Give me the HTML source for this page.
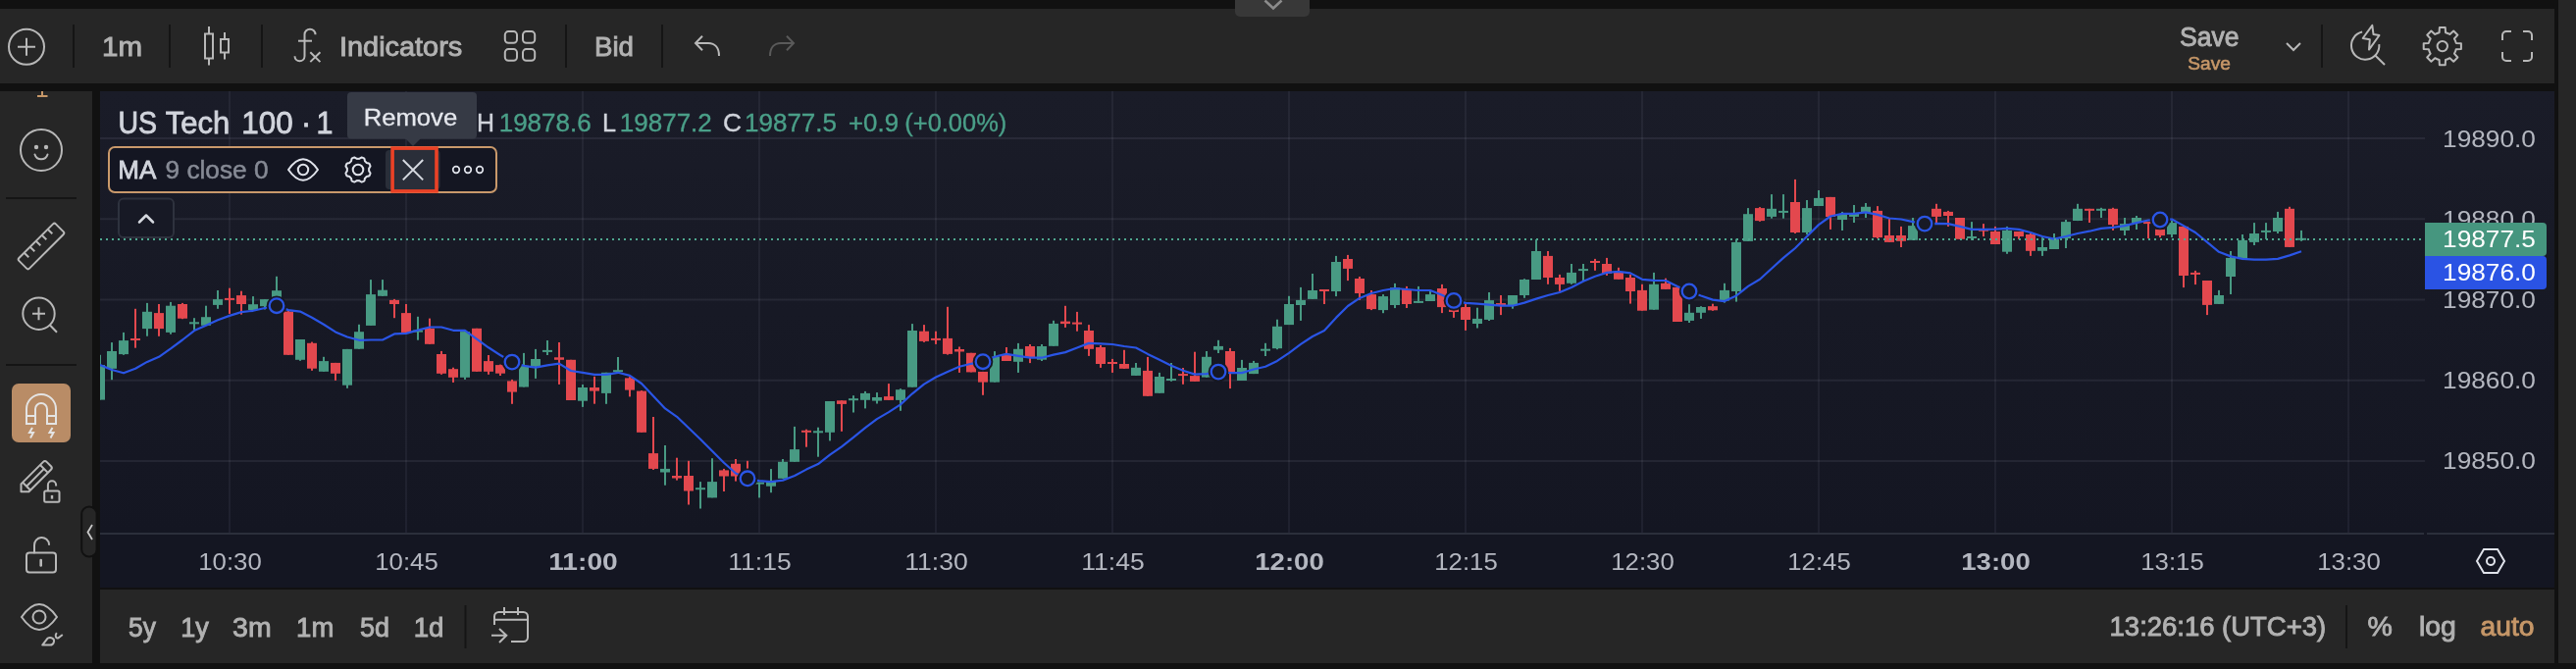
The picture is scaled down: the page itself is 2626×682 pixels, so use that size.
<!DOCTYPE html>
<html><head><meta charset="utf-8"><title>Chart</title>
<style>
html,body{margin:0;padding:0;}
body{width:2626px;height:682px;background:#111111;position:relative;overflow:hidden;font-family:"Liberation Sans",sans-serif;}
.p{position:absolute;}
#toolbar{left:0;top:9px;width:2604px;height:76px;background:#262626;}
#sidebar{left:0;top:93px;width:94px;height:583px;background:#262626;}
#plot{left:102px;top:93px;width:2502px;height:451px;background:linear-gradient(#1a1c28,#141622);}
#taxis{left:102px;top:544px;width:2502px;height:55px;background:#141622;}
#bottom{left:102px;top:601px;width:2502px;height:75px;background:#262626;}
#right{left:2608px;top:0;width:18px;height:676px;background:#262626;}
#tab{left:1259px;top:0;width:76px;height:17px;background:#383838;border-radius:0 0 5px 5px;}
svg{position:absolute;left:0;top:0;will-change:transform;}
svg text{font-family:"Liberation Sans",sans-serif;}
</style></head><body>
<div class="p" id="toolbar"></div>
<div class="p" id="sidebar"></div>
<div class="p" id="plot"></div>
<div class="p" id="taxis"></div>
<div class="p" id="bottom"></div>
<div class="p" id="right"></div>
<div class="p" id="tab"></div>
<svg width="2626" height="682" viewBox="0 0 2626 682">
<g id="chart">
<rect x="233" y="93" width="2" height="451" fill="#dfe4ff" fill-opacity="0.06"/>
<rect x="413" y="93" width="2" height="451" fill="#dfe4ff" fill-opacity="0.06"/>
<rect x="593" y="93" width="2" height="451" fill="#dfe4ff" fill-opacity="0.06"/>
<rect x="773" y="93" width="2" height="451" fill="#dfe4ff" fill-opacity="0.06"/>
<rect x="953" y="93" width="2" height="451" fill="#dfe4ff" fill-opacity="0.06"/>
<rect x="1133" y="93" width="2" height="451" fill="#dfe4ff" fill-opacity="0.06"/>
<rect x="1313" y="93" width="2" height="451" fill="#dfe4ff" fill-opacity="0.06"/>
<rect x="1493" y="93" width="2" height="451" fill="#dfe4ff" fill-opacity="0.06"/>
<rect x="1673" y="93" width="2" height="451" fill="#dfe4ff" fill-opacity="0.06"/>
<rect x="1853" y="93" width="2" height="451" fill="#dfe4ff" fill-opacity="0.06"/>
<rect x="2033" y="93" width="2" height="451" fill="#dfe4ff" fill-opacity="0.06"/>
<rect x="2213" y="93" width="2" height="451" fill="#dfe4ff" fill-opacity="0.06"/>
<rect x="2393" y="93" width="2" height="451" fill="#dfe4ff" fill-opacity="0.06"/>
<rect x="102" y="140.00" width="2370" height="2" fill="#dfe4ff" fill-opacity="0.075"/>
<rect x="102" y="222.25" width="2370" height="2" fill="#dfe4ff" fill-opacity="0.075"/>
<rect x="102" y="304.50" width="2370" height="2" fill="#dfe4ff" fill-opacity="0.075"/>
<rect x="102" y="386.75" width="2370" height="2" fill="#dfe4ff" fill-opacity="0.075"/>
<rect x="102" y="469.00" width="2370" height="2" fill="#dfe4ff" fill-opacity="0.075"/>
<rect x="102" y="543" width="2369" height="2" fill="#2b2f3b"/>
<rect x="2474" y="543" width="130" height="2" fill="#2b2f3b"/>
<clipPath id="cp"><rect x="102" y="93" width="2370" height="451"/></clipPath>
<g clip-path="url(#cp)">
<rect x="101" y="361.8" width="2" height="45.7" fill="#489a83"/>
<rect x="97" y="372.0" width="10" height="35.6" fill="#489a83"/>
<rect x="113" y="349.1" width="2" height="38.1" fill="#489a83"/>
<rect x="109" y="358.0" width="10" height="17.8" fill="#489a83"/>
<rect x="125" y="338.9" width="2" height="22.9" fill="#489a83"/>
<rect x="121" y="347.1" width="10" height="14.0" fill="#489a83"/>
<rect x="137" y="314.8" width="2" height="39.9" fill="#e3484e"/>
<rect x="133" y="345.0" width="10" height="2.0" fill="#e3484e"/>
<rect x="149" y="308.9" width="2" height="33.8" fill="#489a83"/>
<rect x="145" y="317.8" width="10" height="17.3" fill="#489a83"/>
<rect x="161" y="310.0" width="2" height="32.8" fill="#e3484e"/>
<rect x="157" y="319.1" width="10" height="16.0" fill="#e3484e"/>
<rect x="173" y="307.9" width="2" height="32.8" fill="#489a83"/>
<rect x="169" y="311.7" width="10" height="27.2" fill="#489a83"/>
<rect x="185" y="308.9" width="2" height="16.3" fill="#e3484e"/>
<rect x="181" y="310.0" width="10" height="14.7" fill="#e3484e"/>
<rect x="197" y="324.2" width="2" height="12.2" fill="#489a83"/>
<rect x="193" y="328.3" width="10" height="2.0" fill="#489a83"/>
<rect x="209" y="311.7" width="2" height="20.1" fill="#489a83"/>
<rect x="205" y="323.2" width="10" height="8.6" fill="#489a83"/>
<rect x="221" y="296.0" width="2" height="18.8" fill="#489a83"/>
<rect x="217" y="305.1" width="10" height="5.8" fill="#489a83"/>
<rect x="233" y="293.7" width="2" height="26.2" fill="#e3484e"/>
<rect x="229" y="303.9" width="10" height="2.0" fill="#e3484e"/>
<rect x="245" y="296.7" width="2" height="23.9" fill="#e3484e"/>
<rect x="241" y="301.1" width="10" height="8.9" fill="#e3484e"/>
<rect x="257" y="302.1" width="2" height="14.0" fill="#489a83"/>
<rect x="253" y="310.2" width="10" height="5.8" fill="#489a83"/>
<rect x="269" y="305.1" width="2" height="10.4" fill="#489a83"/>
<rect x="265" y="305.1" width="10" height="7.1" fill="#489a83"/>
<rect x="281" y="281.8" width="2" height="22.9" fill="#489a83"/>
<rect x="277" y="296.2" width="10" height="7.1" fill="#489a83"/>
<rect x="293" y="316.6" width="2" height="45.2" fill="#e3484e"/>
<rect x="289" y="317.6" width="10" height="44.2" fill="#e3484e"/>
<rect x="305" y="346.0" width="2" height="21.8" fill="#489a83"/>
<rect x="301" y="346.0" width="10" height="20.8" fill="#489a83"/>
<rect x="317" y="348.6" width="2" height="29.2" fill="#e3484e"/>
<rect x="313" y="349.8" width="10" height="25.9" fill="#e3484e"/>
<rect x="329" y="363.8" width="2" height="15.0" fill="#489a83"/>
<rect x="325" y="368.1" width="10" height="10.7" fill="#489a83"/>
<rect x="341" y="369.9" width="2" height="18.0" fill="#e3484e"/>
<rect x="337" y="369.9" width="10" height="10.9" fill="#e3484e"/>
<rect x="353" y="355.9" width="2" height="39.9" fill="#489a83"/>
<rect x="349" y="355.9" width="10" height="36.8" fill="#489a83"/>
<rect x="365" y="330.8" width="2" height="24.9" fill="#489a83"/>
<rect x="361" y="338.2" width="10" height="17.5" fill="#489a83"/>
<rect x="377" y="285.1" width="2" height="46.7" fill="#489a83"/>
<rect x="373" y="300.1" width="10" height="31.8" fill="#489a83"/>
<rect x="389" y="285.1" width="2" height="16.8" fill="#489a83"/>
<rect x="385" y="295.7" width="10" height="6.1" fill="#489a83"/>
<rect x="401" y="304.9" width="2" height="19.3" fill="#e3484e"/>
<rect x="397" y="305.9" width="10" height="4.1" fill="#e3484e"/>
<rect x="413" y="310.0" width="2" height="29.0" fill="#e3484e"/>
<rect x="409" y="319.1" width="10" height="19.8" fill="#e3484e"/>
<rect x="425" y="322.8" width="2" height="23.9" fill="#489a83"/>
<rect x="421" y="336.6" width="10" height="2.0" fill="#489a83"/>
<rect x="437" y="324.6" width="2" height="26.2" fill="#e3484e"/>
<rect x="433" y="334.8" width="10" height="16.0" fill="#e3484e"/>
<rect x="449" y="357.9" width="2" height="23.9" fill="#e3484e"/>
<rect x="445" y="361.0" width="10" height="19.8" fill="#e3484e"/>
<rect x="461" y="374.7" width="2" height="15.2" fill="#e3484e"/>
<rect x="457" y="376.2" width="10" height="8.6" fill="#e3484e"/>
<rect x="473" y="338.1" width="2" height="48.8" fill="#489a83"/>
<rect x="469" y="338.1" width="10" height="46.7" fill="#489a83"/>
<rect x="485" y="334.8" width="2" height="44.0" fill="#e3484e"/>
<rect x="481" y="334.8" width="10" height="44.0" fill="#e3484e"/>
<rect x="497" y="362.0" width="2" height="19.8" fill="#e3484e"/>
<rect x="493" y="368.1" width="10" height="10.7" fill="#e3484e"/>
<rect x="509" y="371.6" width="2" height="11.4" fill="#e3484e"/>
<rect x="505" y="372.1" width="10" height="8.6" fill="#e3484e"/>
<rect x="521" y="386.9" width="2" height="24.9" fill="#e3484e"/>
<rect x="517" y="388.4" width="10" height="11.2" fill="#e3484e"/>
<rect x="533" y="359.9" width="2" height="34.6" fill="#489a83"/>
<rect x="529" y="372.9" width="10" height="21.6" fill="#489a83"/>
<rect x="545" y="355.9" width="2" height="30.0" fill="#489a83"/>
<rect x="541" y="366.0" width="10" height="7.6" fill="#489a83"/>
<rect x="557" y="347.0" width="2" height="15.0" fill="#489a83"/>
<rect x="553" y="356.9" width="10" height="2.0" fill="#489a83"/>
<rect x="569" y="349.0" width="2" height="42.9" fill="#e3484e"/>
<rect x="565" y="364.3" width="10" height="2.5" fill="#e3484e"/>
<rect x="581" y="366.8" width="2" height="41.2" fill="#e3484e"/>
<rect x="577" y="366.8" width="10" height="41.2" fill="#e3484e"/>
<rect x="593" y="392.0" width="2" height="22.9" fill="#489a83"/>
<rect x="589" y="395.0" width="10" height="13.7" fill="#489a83"/>
<rect x="605" y="383.8" width="2" height="27.9" fill="#e3484e"/>
<rect x="601" y="395.0" width="10" height="3.6" fill="#e3484e"/>
<rect x="617" y="379.8" width="2" height="32.0" fill="#489a83"/>
<rect x="613" y="379.8" width="10" height="21.1" fill="#489a83"/>
<rect x="629" y="364.0" width="2" height="15.8" fill="#489a83"/>
<rect x="625" y="377.2" width="10" height="2.0" fill="#489a83"/>
<rect x="641" y="384.1" width="2" height="20.3" fill="#e3484e"/>
<rect x="637" y="385.4" width="10" height="12.2" fill="#e3484e"/>
<rect x="653" y="398.1" width="2" height="42.7" fill="#e3484e"/>
<rect x="649" y="398.6" width="10" height="42.2" fill="#e3484e"/>
<rect x="665" y="425.0" width="2" height="53.9" fill="#e3484e"/>
<rect x="661" y="462.1" width="10" height="15.8" fill="#e3484e"/>
<rect x="677" y="454.0" width="2" height="40.7" fill="#489a83"/>
<rect x="673" y="477.9" width="10" height="3.6" fill="#489a83"/>
<rect x="689" y="466.7" width="2" height="22.9" fill="#e3484e"/>
<rect x="685" y="485.0" width="10" height="2.5" fill="#e3484e"/>
<rect x="701" y="469.8" width="2" height="44.7" fill="#e3484e"/>
<rect x="697" y="485.0" width="10" height="15.5" fill="#e3484e"/>
<rect x="713" y="491.1" width="2" height="27.4" fill="#489a83"/>
<rect x="709" y="497.2" width="10" height="2.0" fill="#489a83"/>
<rect x="725" y="467.2" width="2" height="40.1" fill="#489a83"/>
<rect x="721" y="491.1" width="10" height="16.3" fill="#489a83"/>
<rect x="737" y="477.9" width="2" height="23.1" fill="#e3484e"/>
<rect x="733" y="479.4" width="10" height="6.1" fill="#e3484e"/>
<rect x="749" y="468.0" width="2" height="22.6" fill="#e3484e"/>
<rect x="745" y="472.8" width="10" height="12.7" fill="#e3484e"/>
<rect x="761" y="469.8" width="2" height="17.3" fill="#e3484e"/>
<rect x="757" y="481.4" width="10" height="2.0" fill="#e3484e"/>
<rect x="773" y="491.6" width="2" height="15.8" fill="#489a83"/>
<rect x="769" y="491.6" width="10" height="2.0" fill="#489a83"/>
<rect x="785" y="478.1" width="2" height="24.1" fill="#489a83"/>
<rect x="781" y="490.1" width="10" height="5.6" fill="#489a83"/>
<rect x="797" y="468.0" width="2" height="19.8" fill="#489a83"/>
<rect x="793" y="470.8" width="10" height="17.0" fill="#489a83"/>
<rect x="809" y="434.9" width="2" height="35.8" fill="#489a83"/>
<rect x="805" y="458.1" width="10" height="12.7" fill="#489a83"/>
<rect x="821" y="437.7" width="2" height="18.0" fill="#e3484e"/>
<rect x="817" y="438.8" width="10" height="2.0" fill="#e3484e"/>
<rect x="833" y="435.7" width="2" height="30.0" fill="#489a83"/>
<rect x="829" y="439.3" width="10" height="2.0" fill="#489a83"/>
<rect x="845" y="409.0" width="2" height="40.4" fill="#489a83"/>
<rect x="841" y="409.0" width="10" height="31.8" fill="#489a83"/>
<rect x="857" y="408.3" width="2" height="31.5" fill="#e3484e"/>
<rect x="853" y="408.3" width="10" height="3.6" fill="#e3484e"/>
<rect x="869" y="403.2" width="2" height="17.3" fill="#489a83"/>
<rect x="865" y="406.2" width="10" height="2.0" fill="#489a83"/>
<rect x="881" y="398.9" width="2" height="17.5" fill="#489a83"/>
<rect x="877" y="400.9" width="10" height="6.9" fill="#489a83"/>
<rect x="893" y="400.1" width="2" height="11.4" fill="#489a83"/>
<rect x="889" y="405.0" width="10" height="3.6" fill="#489a83"/>
<rect x="905" y="391.1" width="2" height="16.8" fill="#e3484e"/>
<rect x="901" y="404.1" width="10" height="3.8" fill="#e3484e"/>
<rect x="917" y="396.2" width="2" height="22.6" fill="#489a83"/>
<rect x="913" y="397.2" width="10" height="10.7" fill="#489a83"/>
<rect x="929" y="330.1" width="2" height="64.5" fill="#489a83"/>
<rect x="925" y="337.0" width="10" height="57.7" fill="#489a83"/>
<rect x="941" y="331.1" width="2" height="17.8" fill="#e3484e"/>
<rect x="937" y="337.7" width="10" height="10.2" fill="#e3484e"/>
<rect x="953" y="337.7" width="2" height="13.2" fill="#e3484e"/>
<rect x="949" y="344.9" width="10" height="2.0" fill="#e3484e"/>
<rect x="965" y="312.8" width="2" height="48.8" fill="#e3484e"/>
<rect x="961" y="344.9" width="10" height="16.0" fill="#e3484e"/>
<rect x="977" y="353.5" width="2" height="26.4" fill="#e3484e"/>
<rect x="973" y="356.0" width="10" height="2.5" fill="#e3484e"/>
<rect x="989" y="359.8" width="2" height="19.6" fill="#e3484e"/>
<rect x="985" y="359.8" width="10" height="19.6" fill="#e3484e"/>
<rect x="1001" y="376.9" width="2" height="25.9" fill="#e3484e"/>
<rect x="997" y="378.9" width="10" height="10.7" fill="#e3484e"/>
<rect x="1013" y="358.1" width="2" height="31.5" fill="#489a83"/>
<rect x="1009" y="363.7" width="10" height="25.9" fill="#489a83"/>
<rect x="1025" y="354.0" width="2" height="14.0" fill="#e3484e"/>
<rect x="1021" y="361.1" width="10" height="6.9" fill="#e3484e"/>
<rect x="1037" y="349.9" width="2" height="30.0" fill="#489a83"/>
<rect x="1033" y="355.8" width="10" height="13.0" fill="#489a83"/>
<rect x="1049" y="351.0" width="2" height="19.1" fill="#e3484e"/>
<rect x="1045" y="353.0" width="10" height="11.2" fill="#e3484e"/>
<rect x="1061" y="351.0" width="2" height="17.0" fill="#489a83"/>
<rect x="1057" y="353.0" width="10" height="13.7" fill="#489a83"/>
<rect x="1073" y="326.8" width="2" height="25.9" fill="#489a83"/>
<rect x="1069" y="329.9" width="10" height="22.9" fill="#489a83"/>
<rect x="1085" y="311.8" width="2" height="22.1" fill="#e3484e"/>
<rect x="1081" y="327.6" width="10" height="2.5" fill="#e3484e"/>
<rect x="1097" y="317.9" width="2" height="19.8" fill="#e3484e"/>
<rect x="1093" y="328.6" width="10" height="2.0" fill="#e3484e"/>
<rect x="1109" y="331.1" width="2" height="31.8" fill="#e3484e"/>
<rect x="1105" y="337.0" width="10" height="18.8" fill="#e3484e"/>
<rect x="1121" y="352.0" width="2" height="22.9" fill="#e3484e"/>
<rect x="1117" y="354.0" width="10" height="17.0" fill="#e3484e"/>
<rect x="1133" y="365.9" width="2" height="14.0" fill="#e3484e"/>
<rect x="1129" y="369.0" width="10" height="2.0" fill="#e3484e"/>
<rect x="1145" y="356.8" width="2" height="19.1" fill="#e3484e"/>
<rect x="1141" y="371.0" width="10" height="4.8" fill="#e3484e"/>
<rect x="1157" y="370.0" width="2" height="13.0" fill="#489a83"/>
<rect x="1153" y="374.8" width="10" height="8.1" fill="#489a83"/>
<rect x="1169" y="363.9" width="2" height="39.9" fill="#e3484e"/>
<rect x="1165" y="377.9" width="10" height="25.9" fill="#e3484e"/>
<rect x="1181" y="379.9" width="2" height="20.8" fill="#489a83"/>
<rect x="1177" y="384.0" width="10" height="16.8" fill="#489a83"/>
<rect x="1193" y="370.0" width="2" height="18.8" fill="#489a83"/>
<rect x="1189" y="386.0" width="10" height="2.0" fill="#489a83"/>
<rect x="1205" y="375.0" width="2" height="16.8" fill="#e3484e"/>
<rect x="1201" y="381.1" width="10" height="2.0" fill="#e3484e"/>
<rect x="1217" y="358.7" width="2" height="30.2" fill="#e3484e"/>
<rect x="1213" y="383.1" width="10" height="5.8" fill="#e3484e"/>
<rect x="1229" y="358.0" width="2" height="26.7" fill="#489a83"/>
<rect x="1225" y="363.8" width="10" height="20.8" fill="#489a83"/>
<rect x="1241" y="346.8" width="2" height="13.2" fill="#489a83"/>
<rect x="1237" y="352.9" width="10" height="3.8" fill="#489a83"/>
<rect x="1253" y="354.9" width="2" height="41.2" fill="#e3484e"/>
<rect x="1249" y="358.0" width="10" height="21.1" fill="#e3484e"/>
<rect x="1265" y="366.9" width="2" height="21.1" fill="#489a83"/>
<rect x="1261" y="375.0" width="10" height="13.0" fill="#489a83"/>
<rect x="1277" y="367.9" width="2" height="13.2" fill="#489a83"/>
<rect x="1273" y="369.9" width="10" height="11.2" fill="#489a83"/>
<rect x="1289" y="349.8" width="2" height="13.2" fill="#489a83"/>
<rect x="1285" y="355.7" width="10" height="2.0" fill="#489a83"/>
<rect x="1301" y="325.7" width="2" height="30.5" fill="#489a83"/>
<rect x="1297" y="332.8" width="10" height="22.4" fill="#489a83"/>
<rect x="1313" y="301.8" width="2" height="29.2" fill="#489a83"/>
<rect x="1309" y="310.0" width="10" height="21.1" fill="#489a83"/>
<rect x="1325" y="292.9" width="2" height="34.0" fill="#489a83"/>
<rect x="1321" y="305.9" width="10" height="5.1" fill="#489a83"/>
<rect x="1337" y="279.0" width="2" height="25.9" fill="#489a83"/>
<rect x="1333" y="296.0" width="10" height="8.9" fill="#489a83"/>
<rect x="1349" y="295.0" width="2" height="15.0" fill="#e3484e"/>
<rect x="1345" y="295.0" width="10" height="2.0" fill="#e3484e"/>
<rect x="1361" y="260.9" width="2" height="41.2" fill="#489a83"/>
<rect x="1357" y="267.0" width="10" height="30.0" fill="#489a83"/>
<rect x="1373" y="259.9" width="2" height="26.2" fill="#e3484e"/>
<rect x="1369" y="264.0" width="10" height="9.9" fill="#e3484e"/>
<rect x="1385" y="282.0" width="2" height="23.9" fill="#e3484e"/>
<rect x="1381" y="284.0" width="10" height="15.0" fill="#e3484e"/>
<rect x="1397" y="296.0" width="2" height="20.1" fill="#e3484e"/>
<rect x="1393" y="300.1" width="10" height="15.0" fill="#e3484e"/>
<rect x="1409" y="300.1" width="2" height="19.1" fill="#489a83"/>
<rect x="1405" y="302.1" width="10" height="14.0" fill="#489a83"/>
<rect x="1421" y="288.9" width="2" height="25.2" fill="#489a83"/>
<rect x="1417" y="293.2" width="10" height="17.8" fill="#489a83"/>
<rect x="1433" y="291.9" width="2" height="22.1" fill="#e3484e"/>
<rect x="1429" y="295.0" width="10" height="15.0" fill="#e3484e"/>
<rect x="1445" y="291.9" width="2" height="17.0" fill="#489a83"/>
<rect x="1441" y="306.9" width="10" height="2.0" fill="#489a83"/>
<rect x="1457" y="297.0" width="2" height="9.9" fill="#489a83"/>
<rect x="1453" y="300.1" width="10" height="6.9" fill="#489a83"/>
<rect x="1469" y="289.9" width="2" height="29.2" fill="#e3484e"/>
<rect x="1465" y="294.0" width="10" height="19.1" fill="#e3484e"/>
<rect x="1481" y="313.5" width="2" height="10.4" fill="#e3484e"/>
<rect x="1477" y="315.0" width="10" height="3.0" fill="#e3484e"/>
<rect x="1493" y="310.0" width="2" height="26.9" fill="#e3484e"/>
<rect x="1489" y="313.0" width="10" height="13.0" fill="#e3484e"/>
<rect x="1505" y="313.7" width="2" height="20.8" fill="#489a83"/>
<rect x="1501" y="324.9" width="10" height="5.1" fill="#489a83"/>
<rect x="1517" y="298.0" width="2" height="29.0" fill="#489a83"/>
<rect x="1513" y="306.1" width="10" height="19.8" fill="#489a83"/>
<rect x="1529" y="301.0" width="2" height="20.1" fill="#e3484e"/>
<rect x="1525" y="309.1" width="10" height="2.0" fill="#e3484e"/>
<rect x="1541" y="301.0" width="2" height="13.7" fill="#489a83"/>
<rect x="1537" y="301.0" width="10" height="10.2" fill="#489a83"/>
<rect x="1553" y="284.2" width="2" height="19.6" fill="#489a83"/>
<rect x="1549" y="285.0" width="10" height="16.0" fill="#489a83"/>
<rect x="1565" y="244.1" width="2" height="40.9" fill="#489a83"/>
<rect x="1561" y="256.0" width="10" height="29.0" fill="#489a83"/>
<rect x="1577" y="256.0" width="2" height="33.8" fill="#e3484e"/>
<rect x="1573" y="260.9" width="10" height="22.1" fill="#e3484e"/>
<rect x="1589" y="279.9" width="2" height="17.0" fill="#e3484e"/>
<rect x="1585" y="283.0" width="10" height="6.9" fill="#e3484e"/>
<rect x="1601" y="269.0" width="2" height="20.8" fill="#489a83"/>
<rect x="1597" y="277.9" width="10" height="10.9" fill="#489a83"/>
<rect x="1613" y="269.0" width="2" height="17.0" fill="#489a83"/>
<rect x="1609" y="274.1" width="10" height="2.0" fill="#489a83"/>
<rect x="1625" y="263.9" width="2" height="11.9" fill="#e3484e"/>
<rect x="1621" y="266.0" width="10" height="2.0" fill="#e3484e"/>
<rect x="1637" y="262.9" width="2" height="18.0" fill="#e3484e"/>
<rect x="1633" y="269.0" width="10" height="9.9" fill="#e3484e"/>
<rect x="1649" y="272.8" width="2" height="11.9" fill="#e3484e"/>
<rect x="1645" y="276.9" width="10" height="7.9" fill="#e3484e"/>
<rect x="1661" y="279.9" width="2" height="29.7" fill="#e3484e"/>
<rect x="1657" y="283.0" width="10" height="14.0" fill="#e3484e"/>
<rect x="1673" y="289.8" width="2" height="26.9" fill="#e3484e"/>
<rect x="1669" y="295.9" width="10" height="20.8" fill="#e3484e"/>
<rect x="1685" y="277.9" width="2" height="37.9" fill="#489a83"/>
<rect x="1681" y="289.8" width="10" height="25.9" fill="#489a83"/>
<rect x="1697" y="283.7" width="2" height="11.2" fill="#e3484e"/>
<rect x="1693" y="288.8" width="10" height="6.1" fill="#e3484e"/>
<rect x="1709" y="292.9" width="2" height="35.1" fill="#e3484e"/>
<rect x="1705" y="292.9" width="10" height="35.1" fill="#e3484e"/>
<rect x="1721" y="310.2" width="2" height="18.8" fill="#489a83"/>
<rect x="1717" y="318.8" width="10" height="8.1" fill="#489a83"/>
<rect x="1733" y="312.2" width="2" height="12.7" fill="#489a83"/>
<rect x="1729" y="313.0" width="10" height="5.8" fill="#489a83"/>
<rect x="1745" y="309.7" width="2" height="7.1" fill="#e3484e"/>
<rect x="1741" y="312.2" width="10" height="4.1" fill="#e3484e"/>
<rect x="1757" y="288.8" width="2" height="19.8" fill="#489a83"/>
<rect x="1753" y="295.9" width="10" height="10.7" fill="#489a83"/>
<rect x="1769" y="243.6" width="2" height="64.0" fill="#489a83"/>
<rect x="1765" y="246.9" width="10" height="50.1" fill="#489a83"/>
<rect x="1781" y="212.1" width="2" height="33.8" fill="#489a83"/>
<rect x="1777" y="218.2" width="10" height="27.7" fill="#489a83"/>
<rect x="1793" y="211.1" width="2" height="14.7" fill="#e3484e"/>
<rect x="1789" y="212.1" width="10" height="13.0" fill="#e3484e"/>
<rect x="1805" y="198.1" width="2" height="24.6" fill="#489a83"/>
<rect x="1801" y="212.8" width="10" height="8.1" fill="#489a83"/>
<rect x="1817" y="198.1" width="2" height="24.6" fill="#489a83"/>
<rect x="1813" y="214.9" width="10" height="2.0" fill="#489a83"/>
<rect x="1829" y="182.9" width="2" height="55.1" fill="#e3484e"/>
<rect x="1825" y="206.0" width="10" height="31.0" fill="#e3484e"/>
<rect x="1841" y="204.0" width="2" height="35.1" fill="#489a83"/>
<rect x="1837" y="212.1" width="10" height="24.9" fill="#489a83"/>
<rect x="1853" y="194.0" width="2" height="16.0" fill="#489a83"/>
<rect x="1849" y="201.9" width="10" height="8.1" fill="#489a83"/>
<rect x="1865" y="200.9" width="2" height="33.0" fill="#e3484e"/>
<rect x="1861" y="200.9" width="10" height="20.1" fill="#e3484e"/>
<rect x="1877" y="215.9" width="2" height="19.1" fill="#489a83"/>
<rect x="1873" y="218.9" width="10" height="5.1" fill="#489a83"/>
<rect x="1889" y="209.0" width="2" height="18.0" fill="#489a83"/>
<rect x="1885" y="217.9" width="10" height="3.0" fill="#489a83"/>
<rect x="1901" y="207.0" width="2" height="15.0" fill="#489a83"/>
<rect x="1897" y="210.8" width="10" height="6.1" fill="#489a83"/>
<rect x="1913" y="210.1" width="2" height="33.0" fill="#e3484e"/>
<rect x="1909" y="214.9" width="10" height="27.2" fill="#e3484e"/>
<rect x="1925" y="223.0" width="2" height="23.9" fill="#e3484e"/>
<rect x="1921" y="240.0" width="10" height="6.9" fill="#e3484e"/>
<rect x="1937" y="230.9" width="2" height="21.1" fill="#e3484e"/>
<rect x="1933" y="240.0" width="10" height="5.8" fill="#e3484e"/>
<rect x="1949" y="222.0" width="2" height="22.9" fill="#489a83"/>
<rect x="1945" y="230.1" width="10" height="14.7" fill="#489a83"/>
<rect x="1973" y="207.8" width="2" height="19.3" fill="#e3484e"/>
<rect x="1969" y="212.8" width="10" height="8.1" fill="#e3484e"/>
<rect x="1985" y="214.9" width="2" height="16.0" fill="#e3484e"/>
<rect x="1981" y="215.9" width="10" height="4.1" fill="#e3484e"/>
<rect x="1997" y="222.0" width="2" height="21.8" fill="#e3484e"/>
<rect x="1993" y="222.0" width="10" height="21.8" fill="#e3484e"/>
<rect x="2009" y="226.1" width="2" height="18.8" fill="#489a83"/>
<rect x="2005" y="241.0" width="10" height="2.0" fill="#489a83"/>
<rect x="2021" y="228.1" width="2" height="13.0" fill="#e3484e"/>
<rect x="2017" y="233.7" width="10" height="2.0" fill="#e3484e"/>
<rect x="2033" y="230.9" width="2" height="18.0" fill="#e3484e"/>
<rect x="2029" y="236.0" width="10" height="13.0" fill="#e3484e"/>
<rect x="2045" y="230.9" width="2" height="27.9" fill="#489a83"/>
<rect x="2041" y="234.9" width="10" height="21.8" fill="#489a83"/>
<rect x="2057" y="236.0" width="2" height="7.9" fill="#e3484e"/>
<rect x="2053" y="236.0" width="10" height="5.1" fill="#e3484e"/>
<rect x="2069" y="238.0" width="2" height="22.9" fill="#e3484e"/>
<rect x="2065" y="239.0" width="10" height="16.8" fill="#e3484e"/>
<rect x="2081" y="242.1" width="2" height="18.8" fill="#489a83"/>
<rect x="2077" y="252.0" width="10" height="3.8" fill="#489a83"/>
<rect x="2093" y="238.0" width="2" height="16.0" fill="#489a83"/>
<rect x="2089" y="243.8" width="10" height="10.2" fill="#489a83"/>
<rect x="2105" y="224.0" width="2" height="29.0" fill="#489a83"/>
<rect x="2101" y="226.1" width="10" height="17.0" fill="#489a83"/>
<rect x="2117" y="207.8" width="2" height="17.3" fill="#489a83"/>
<rect x="2113" y="212.8" width="10" height="12.2" fill="#489a83"/>
<rect x="2129" y="212.8" width="2" height="14.2" fill="#e3484e"/>
<rect x="2125" y="212.8" width="10" height="2.0" fill="#e3484e"/>
<rect x="2141" y="211.8" width="2" height="10.2" fill="#489a83"/>
<rect x="2137" y="212.8" width="10" height="2.0" fill="#489a83"/>
<rect x="2153" y="211.8" width="2" height="23.1" fill="#e3484e"/>
<rect x="2149" y="212.8" width="10" height="16.3" fill="#e3484e"/>
<rect x="2165" y="222.0" width="2" height="18.0" fill="#489a83"/>
<rect x="2161" y="228.1" width="10" height="6.9" fill="#489a83"/>
<rect x="2177" y="220.0" width="2" height="14.0" fill="#489a83"/>
<rect x="2173" y="222.0" width="10" height="5.1" fill="#489a83"/>
<rect x="2189" y="226.1" width="2" height="17.0" fill="#e3484e"/>
<rect x="2185" y="226.1" width="10" height="2.0" fill="#e3484e"/>
<rect x="2201" y="232.4" width="2" height="9.7" fill="#e3484e"/>
<rect x="2197" y="233.7" width="10" height="6.4" fill="#e3484e"/>
<rect x="2213" y="225.0" width="2" height="17.0" fill="#489a83"/>
<rect x="2209" y="227.1" width="10" height="11.9" fill="#489a83"/>
<rect x="2225" y="230.9" width="2" height="62.2" fill="#e3484e"/>
<rect x="2221" y="230.9" width="10" height="50.1" fill="#e3484e"/>
<rect x="2237" y="275.9" width="2" height="14.2" fill="#e3484e"/>
<rect x="2233" y="277.9" width="10" height="2.0" fill="#e3484e"/>
<rect x="2249" y="286.0" width="2" height="35.1" fill="#e3484e"/>
<rect x="2245" y="286.0" width="10" height="24.9" fill="#e3484e"/>
<rect x="2261" y="295.9" width="2" height="14.0" fill="#489a83"/>
<rect x="2257" y="301.0" width="10" height="8.9" fill="#489a83"/>
<rect x="2273" y="256.0" width="2" height="44.0" fill="#489a83"/>
<rect x="2269" y="262.9" width="10" height="19.1" fill="#489a83"/>
<rect x="2285" y="239.0" width="2" height="24.9" fill="#489a83"/>
<rect x="2281" y="244.9" width="10" height="19.1" fill="#489a83"/>
<rect x="2297" y="227.1" width="2" height="22.9" fill="#489a83"/>
<rect x="2293" y="238.0" width="10" height="8.9" fill="#489a83"/>
<rect x="2309" y="227.1" width="2" height="16.8" fill="#489a83"/>
<rect x="2305" y="234.9" width="10" height="2.0" fill="#489a83"/>
<rect x="2321" y="215.9" width="2" height="22.1" fill="#489a83"/>
<rect x="2317" y="222.0" width="10" height="14.0" fill="#489a83"/>
<rect x="2333" y="210.8" width="2" height="41.2" fill="#e3484e"/>
<rect x="2329" y="212.8" width="10" height="39.1" fill="#e3484e"/>
<rect x="2345" y="234.9" width="2" height="10.9" fill="#489a83"/>
<rect x="2341" y="242.8" width="10" height="2.0" fill="#489a83"/>
<path d="M102,372.0 L114,377.0 L126,380.3 L138,375.8 L150,368.9 L162,363.8 L174,355.4 L186,346.5 L198,337.1 L210,331.8 L222,326.2 L234,321.9 L246,318.1 L258,316.8 L270,314.0 L282,311.7 L294,316.1 L306,317.6 L318,323.7 L330,330.8 L342,338.4 L354,343.5 L366,346.8 L378,346.5 L390,346.5 L402,340.4 L414,339.9 L426,336.6 L438,333.5 L450,333.5 L462,336.8 L474,336.8 L486,345.7 L498,354.3 L510,362.0 L522,369.1 L534,372.9 L546,374.7 L558,372.4 L570,370.6 L582,378.0 L594,379.8 L606,381.8 L618,381.8 L630,379.8 L642,382.9 L654,391.0 L666,403.7 L678,416.4 L690,424.8 L702,436.2 L714,447.7 L726,459.8 L738,471.8 L750,482.5 L762,487.8 L774,490.1 L786,491.1 L798,489.6 L810,485.0 L822,478.6 L834,473.1 L846,463.7 L858,455.3 L870,445.9 L882,436.2 L894,427.1 L906,420.1 L918,412.4 L930,401.3 L942,391.6 L954,384.5 L966,378.9 L978,373.8 L990,370.8 L1002,368.7 L1014,363.7 L1026,360.9 L1038,362.9 L1050,364.7 L1062,364.7 L1074,361.6 L1086,359.1 L1098,354.5 L1110,349.9 L1122,350.4 L1134,351.0 L1146,353.0 L1158,354.5 L1170,360.9 L1182,366.7 L1194,372.8 L1206,377.8 L1218,381.6 L1230,381.1 L1242,379.1 L1254,380.1 L1266,380.1 L1278,376.5 L1290,373.7 L1302,367.9 L1314,359.8 L1326,350.9 L1338,343.0 L1350,336.9 L1362,323.9 L1374,312.0 L1386,303.9 L1398,299.0 L1410,296.0 L1422,294.0 L1434,295.0 L1446,296.0 L1458,296.0 L1470,300.8 L1482,306.4 L1494,308.9 L1506,309.7 L1518,310.7 L1530,311.7 L1542,311.7 L1554,308.6 L1566,304.6 L1578,301.0 L1590,298.0 L1602,292.9 L1614,286.8 L1626,281.7 L1638,277.9 L1650,276.9 L1662,278.4 L1674,284.8 L1686,285.8 L1698,286.0 L1710,291.9 L1722,297.0 L1734,301.5 L1746,305.6 L1758,307.1 L1770,301.5 L1782,291.9 L1794,284.8 L1806,273.8 L1818,262.9 L1830,253.0 L1842,241.0 L1854,229.1 L1866,220.5 L1878,217.9 L1890,217.9 L1902,216.4 L1914,218.9 L1926,222.5 L1938,223.5 L1950,226.1 L1962,228.1 L1974,227.8 L1986,228.1 L1998,230.9 L2010,233.9 L2022,233.9 L2034,233.7 L2046,232.9 L2058,233.9 L2070,237.0 L2082,241.0 L2094,243.6 L2106,241.0 L2118,238.0 L2130,235.7 L2142,232.9 L2154,231.9 L2166,230.1 L2178,227.1 L2190,224.5 L2202,224.0 L2214,223.5 L2226,230.1 L2238,237.0 L2250,246.9 L2262,256.8 L2274,261.4 L2286,263.9 L2298,264.7 L2310,264.7 L2322,263.9 L2334,260.4 L2346,256.3" fill="none" stroke="#2a55e6" stroke-width="2.2" stroke-linejoin="round"/>
<circle cx="282" cy="311.7" r="10.3" fill="#171925"/><circle cx="282" cy="311.7" r="7.3" fill="none" stroke="#2a55e6" stroke-width="2.3"/>
<circle cx="522" cy="369.1" r="10.3" fill="#161824"/><circle cx="522" cy="369.1" r="7.3" fill="none" stroke="#2a55e6" stroke-width="2.3"/>
<circle cx="762" cy="487.8" r="10.3" fill="#151723"/><circle cx="762" cy="487.8" r="7.3" fill="none" stroke="#2a55e6" stroke-width="2.3"/>
<circle cx="1002" cy="368.7" r="10.3" fill="#161824"/><circle cx="1002" cy="368.7" r="7.3" fill="none" stroke="#2a55e6" stroke-width="2.3"/>
<circle cx="1242" cy="379.1" r="10.3" fill="#161824"/><circle cx="1242" cy="379.1" r="7.3" fill="none" stroke="#2a55e6" stroke-width="2.3"/>
<circle cx="1482" cy="306.4" r="10.3" fill="#171925"/><circle cx="1482" cy="306.4" r="7.3" fill="none" stroke="#2a55e6" stroke-width="2.3"/>
<circle cx="1722" cy="297.0" r="10.3" fill="#171925"/><circle cx="1722" cy="297.0" r="7.3" fill="none" stroke="#2a55e6" stroke-width="2.3"/>
<circle cx="1962" cy="228.1" r="10.3" fill="#181a26"/><circle cx="1962" cy="228.1" r="7.3" fill="none" stroke="#2a55e6" stroke-width="2.3"/>
<circle cx="2202" cy="224.0" r="10.3" fill="#181a26"/><circle cx="2202" cy="224.0" r="7.3" fill="none" stroke="#2a55e6" stroke-width="2.3"/>
</g>
<line x1="102" y1="244" x2="2472" y2="244" stroke="#4fa88f" stroke-width="2" stroke-dasharray="2 4"/>
</g>
<text x="2490.1" y="150" font-size="24.5" fill="#b4b7c0" font-weight="normal" text-anchor="start" textLength="94.8" lengthAdjust="spacingAndGlyphs" >19890.0</text>
<text x="2490.1" y="232" font-size="24.5" fill="#b4b7c0" font-weight="normal" text-anchor="start" textLength="94.8" lengthAdjust="spacingAndGlyphs" >19880.0</text>
<text x="2490.1" y="314" font-size="24.5" fill="#b4b7c0" font-weight="normal" text-anchor="start" textLength="94.8" lengthAdjust="spacingAndGlyphs" >19870.0</text>
<text x="2490.1" y="396" font-size="24.5" fill="#b4b7c0" font-weight="normal" text-anchor="start" textLength="94.8" lengthAdjust="spacingAndGlyphs" >19860.0</text>
<text x="2490.1" y="478" font-size="24.5" fill="#b4b7c0" font-weight="normal" text-anchor="start" textLength="94.8" lengthAdjust="spacingAndGlyphs" >19850.0</text>
<path d="M2472 227 h120 a4 4 0 0 1 4 4 v26 a4 4 0 0 1 -4 4 h-120 z" fill="#46967f"/>
<text x="2490.1" y="251.8" font-size="24.5" fill="#ffffff" font-weight="normal" text-anchor="start" textLength="94.8" lengthAdjust="spacingAndGlyphs" >19877.5</text>
<path d="M2472 261 h120 a4 4 0 0 1 4 4 v26 a4 4 0 0 1 -4 4 h-120 z" fill="#2a53e4"/>
<text x="2490.1" y="285.8" font-size="24.5" fill="#ffffff" font-weight="normal" text-anchor="start" textLength="94.8" lengthAdjust="spacingAndGlyphs" >19876.0</text>
<text x="234.5" y="581" font-size="24.5" fill="#b4b7c0" font-weight="normal" text-anchor="middle" textLength="64.5" lengthAdjust="spacingAndGlyphs" >10:30</text>
<text x="414.5" y="581" font-size="24.5" fill="#b4b7c0" font-weight="normal" text-anchor="middle" textLength="64.5" lengthAdjust="spacingAndGlyphs" >10:45</text>
<text x="594.5" y="581" font-size="24.5" fill="#b4b7c0" font-weight="bold" text-anchor="middle" textLength="70.5" lengthAdjust="spacingAndGlyphs" >11:00</text>
<text x="774.5" y="581" font-size="24.5" fill="#b4b7c0" font-weight="normal" text-anchor="middle" textLength="64.5" lengthAdjust="spacingAndGlyphs" >11:15</text>
<text x="954.5" y="581" font-size="24.5" fill="#b4b7c0" font-weight="normal" text-anchor="middle" textLength="64.5" lengthAdjust="spacingAndGlyphs" >11:30</text>
<text x="1134.5" y="581" font-size="24.5" fill="#b4b7c0" font-weight="normal" text-anchor="middle" textLength="64.5" lengthAdjust="spacingAndGlyphs" >11:45</text>
<text x="1314.5" y="581" font-size="24.5" fill="#b4b7c0" font-weight="bold" text-anchor="middle" textLength="70.5" lengthAdjust="spacingAndGlyphs" >12:00</text>
<text x="1494.5" y="581" font-size="24.5" fill="#b4b7c0" font-weight="normal" text-anchor="middle" textLength="64.5" lengthAdjust="spacingAndGlyphs" >12:15</text>
<text x="1674.5" y="581" font-size="24.5" fill="#b4b7c0" font-weight="normal" text-anchor="middle" textLength="64.5" lengthAdjust="spacingAndGlyphs" >12:30</text>
<text x="1854.5" y="581" font-size="24.5" fill="#b4b7c0" font-weight="normal" text-anchor="middle" textLength="64.5" lengthAdjust="spacingAndGlyphs" >12:45</text>
<text x="2034.5" y="581" font-size="24.5" fill="#b4b7c0" font-weight="bold" text-anchor="middle" textLength="70.5" lengthAdjust="spacingAndGlyphs" >13:00</text>
<text x="2214.5" y="581" font-size="24.5" fill="#b4b7c0" font-weight="normal" text-anchor="middle" textLength="64.5" lengthAdjust="spacingAndGlyphs" >13:15</text>
<text x="2394.5" y="581" font-size="24.5" fill="#b4b7c0" font-weight="normal" text-anchor="middle" textLength="64.5" lengthAdjust="spacingAndGlyphs" >13:30</text>
<g fill="none" stroke="#e0e3eb" stroke-width="2"><path d="M2525 572 L2532 560 H2546 L2553 572 L2546 584 H2532 Z"/><circle cx="2539" cy="572" r="4"/></g>
<text x="120.5" y="135.5" font-size="30.5" fill="#d1d4dc" font-weight="normal" text-anchor="start" textLength="39.6" lengthAdjust="spacingAndGlyphs" stroke="#d1d4dc" stroke-width="0.8">US</text>
<text x="168.8" y="135.5" font-size="30.5" fill="#d1d4dc" font-weight="normal" text-anchor="start" textLength="65.4" lengthAdjust="spacingAndGlyphs" stroke="#d1d4dc" stroke-width="0.8">Tech</text>
<text x="246.3" y="135.5" font-size="30.5" fill="#d1d4dc" font-weight="normal" text-anchor="start" textLength="52.4" lengthAdjust="spacingAndGlyphs" stroke="#d1d4dc" stroke-width="0.8">100</text>
<text x="312" y="135.5" font-size="30.5" fill="#d1d4dc" font-weight="normal" text-anchor="middle" stroke="#d1d4dc" stroke-width="0.8">·</text>
<text x="322.4" y="135.5" font-size="30.5" fill="#d1d4dc" font-weight="normal" text-anchor="start" stroke="#d1d4dc" stroke-width="0.8">1</text>
<text x="486" y="134.4" font-size="25" fill="#d1d4dc" font-weight="normal" text-anchor="start" textLength="18" lengthAdjust="spacingAndGlyphs" stroke="#d1d4dc" stroke-width="0.35">H</text>
<text x="508.7" y="134.4" font-size="25" fill="#4a9f88" font-weight="normal" text-anchor="start" textLength="94" lengthAdjust="spacingAndGlyphs" stroke="#4a9f88" stroke-width="0.35">19878.6</text>
<text x="614" y="134.4" font-size="25" fill="#d1d4dc" font-weight="normal" text-anchor="start" textLength="14" lengthAdjust="spacingAndGlyphs" stroke="#d1d4dc" stroke-width="0.35">L</text>
<text x="631.8" y="134.4" font-size="25" fill="#4a9f88" font-weight="normal" text-anchor="start" textLength="94" lengthAdjust="spacingAndGlyphs" stroke="#4a9f88" stroke-width="0.35">19877.2</text>
<text x="737" y="134.4" font-size="25" fill="#d1d4dc" font-weight="normal" text-anchor="start" textLength="19" lengthAdjust="spacingAndGlyphs" stroke="#d1d4dc" stroke-width="0.35">C</text>
<text x="759" y="134.4" font-size="25" fill="#4a9f88" font-weight="normal" text-anchor="start" textLength="94" lengthAdjust="spacingAndGlyphs" stroke="#4a9f88" stroke-width="0.35">19877.5</text>
<text x="865" y="134.4" font-size="25" fill="#4a9f88" font-weight="normal" text-anchor="start" textLength="51" lengthAdjust="spacingAndGlyphs" stroke="#4a9f88" stroke-width="0.35">+0.9</text>
<text x="922.3" y="134.4" font-size="25" fill="#4a9f88" font-weight="normal" text-anchor="start" textLength="104" lengthAdjust="spacingAndGlyphs" stroke="#4a9f88" stroke-width="0.35">(+0.00%)</text>
<rect x="111" y="150" width="395" height="46" rx="6" fill="#141622" stroke="#c9996b" stroke-width="2"/>
<text x="120.3" y="182" font-size="26" fill="#d1d4dc" font-weight="normal" text-anchor="start" stroke="#d1d4dc" stroke-width="0.8">MA</text>
<text x="168.5" y="182" font-size="25" fill="#868a95" font-weight="normal" text-anchor="start" textLength="105" lengthAdjust="spacingAndGlyphs" stroke="#868a95" stroke-width="0.5">9 close 0</text>
<g fill="none" stroke="#e0e3eb" stroke-width="2" stroke-linejoin="round"><path d="M294 173 C300 164.500 305 162.300 309 162.300 C313 162.300 318 164.500 324 173 C318 181.500 313 183.700 309 183.700 C305 183.700 300 181.500 294 173 Z"/><circle cx="309" cy="173" r="5.200"/></g>
<g fill="none" stroke="#e0e3eb" stroke-width="2" stroke-linejoin="round"><path d="M376.15 173.00 L376.14 173.44 L376.12 173.87 L376.13 174.32 L376.49 174.82 L376.87 175.36 L377.22 175.93 L377.51 176.53 L377.41 177.03 L377.24 177.52 L377.06 177.99 L376.85 178.46 L376.63 178.92 L376.34 179.35 L375.72 179.57 L375.06 179.72 L374.41 179.84 L373.80 179.94 L373.48 180.24 L373.19 180.57 L372.88 180.88 L372.57 181.19 L372.24 181.48 L371.94 181.80 L371.84 182.41 L371.72 183.06 L371.57 183.72 L371.35 184.34 L370.92 184.63 L370.46 184.85 L369.99 185.06 L369.52 185.24 L369.03 185.41 L368.53 185.51 L367.93 185.22 L367.36 184.87 L366.82 184.49 L366.32 184.13 L365.87 184.12 L365.44 184.14 L365.00 184.15 L364.56 184.14 L364.13 184.12 L363.68 184.13 L363.18 184.49 L362.64 184.87 L362.07 185.22 L361.47 185.51 L360.97 185.41 L360.48 185.24 L360.01 185.06 L359.54 184.85 L359.08 184.63 L358.65 184.34 L358.43 183.72 L358.28 183.06 L358.16 182.41 L358.06 181.80 L357.76 181.48 L357.43 181.19 L357.12 180.88 L356.81 180.57 L356.52 180.24 L356.20 179.94 L355.59 179.84 L354.94 179.72 L354.28 179.57 L353.66 179.35 L353.37 178.92 L353.15 178.46 L352.94 177.99 L352.76 177.52 L352.59 177.03 L352.49 176.53 L352.78 175.93 L353.13 175.36 L353.51 174.82 L353.87 174.32 L353.88 173.87 L353.86 173.44 L353.85 173.00 L353.86 172.56 L353.88 172.13 L353.87 171.68 L353.51 171.18 L353.13 170.64 L352.78 170.07 L352.49 169.47 L352.59 168.97 L352.76 168.48 L352.94 168.01 L353.15 167.54 L353.37 167.08 L353.66 166.65 L354.28 166.43 L354.94 166.28 L355.59 166.16 L356.20 166.06 L356.52 165.76 L356.81 165.43 L357.12 165.12 L357.43 164.81 L357.76 164.52 L358.06 164.20 L358.16 163.59 L358.28 162.94 L358.43 162.28 L358.65 161.66 L359.08 161.37 L359.54 161.15 L360.01 160.94 L360.48 160.76 L360.97 160.59 L361.47 160.49 L362.07 160.78 L362.64 161.13 L363.18 161.51 L363.68 161.87 L364.13 161.88 L364.56 161.86 L365.00 161.85 L365.44 161.86 L365.87 161.88 L366.32 161.87 L366.82 161.51 L367.36 161.13 L367.93 160.78 L368.53 160.49 L369.03 160.59 L369.52 160.76 L369.99 160.94 L370.46 161.15 L370.92 161.37 L371.35 161.66 L371.57 162.28 L371.72 162.94 L371.84 163.59 L371.94 164.20 L372.24 164.52 L372.57 164.81 L372.88 165.12 L373.19 165.43 L373.48 165.76 L373.80 166.06 L374.41 166.16 L375.06 166.28 L375.72 166.43 L376.34 166.65 L376.63 167.08 L376.85 167.54 L377.06 168.01 L377.24 168.48 L377.41 168.97 L377.51 169.47 L377.22 170.07 L376.87 170.64 L376.49 171.18 L376.13 171.68 L376.12 172.13 L376.14 172.56 Z"/><circle cx="365" cy="173" r="5.3"/></g>
<rect x="393" y="153" width="55.6" height="40" rx="4" fill="#2a2e39"/>
<rect x="400.1" y="151.1" width="44.9" height="43.8" fill="#2a2e39" stroke="#ea4126" stroke-width="3.600"/>
<path d="M410.8 163 L431.2 183.4 M431.2 163 L410.8 183.4" stroke="#d6d9e0" stroke-width="2" fill="none"/>
<circle cx="465" cy="173" r="3.300" fill="none" stroke="#e0e3eb" stroke-width="1.700"/>
<circle cx="477" cy="173" r="3.300" fill="none" stroke="#e0e3eb" stroke-width="1.700"/>
<circle cx="489" cy="173" r="3.300" fill="none" stroke="#e0e3eb" stroke-width="1.700"/>
<rect x="121" y="202.5" width="56" height="39.5" rx="5" fill="#171925" stroke="#2e323e" stroke-width="2"/>
<path d="M142 226.500 L149 219.500 L156 226.500" stroke="#d6d9e0" stroke-width="2.500" fill="none" stroke-linecap="round" stroke-linejoin="round"/>
<rect x="354" y="94" width="132" height="47.500" rx="4" fill="#363a45"/>
<path d="M413 141 L421 149 L429 141 Z" fill="#363a45"/>
<text x="370.7" y="127.8" font-size="24.5" fill="#e6e8ee" font-weight="normal" text-anchor="start" textLength="95.5" lengthAdjust="spacingAndGlyphs" stroke="#e6e8ee" stroke-width="0.3">Remove</text>
<g fill="none" stroke="#b8b8b8" stroke-width="2"><circle cx="27" cy="47.800" r="18"/><path d="M18 47.800 H36 M27 38.800 V56.800"/></g>
<rect x="74" y="25" width="2" height="44" fill="#151515"/>
<text x="104" y="56.8" font-size="27" fill="#b2b2b2" font-weight="normal" text-anchor="start" textLength="41" lengthAdjust="spacingAndGlyphs"  stroke="#b2b2b2" stroke-width="0.9">1m</text>
<rect x="172" y="25" width="2" height="44" fill="#151515"/>
<g fill="none" stroke="#b8b8b8" stroke-width="2"><rect x="209" y="34.500" width="8" height="25"/><path d="M213 27 V34.500 M213 59.500 V66.500"/><rect x="225" y="40" width="8" height="13.500"/><path d="M229 33 V40 M229 53.500 V60.500"/></g>
<rect x="266" y="25" width="2" height="44" fill="#151515"/>
<g fill="none" stroke="#b8b8b8" stroke-width="2"><path d="M321.5 35.2 A5.5 5.5 0 0 0 310.5 35.2 V57.3 A5 5 0 0 1 300.5 57.3"/><path d="M304 41.700 H318"/><path d="M316.300 53.300 L326.400 63.100 M326.400 53.300 L316.300 63.100"/></g>
<text x="346" y="57" font-size="27" fill="#b2b2b2" font-weight="normal" text-anchor="start" textLength="125.2" lengthAdjust="spacingAndGlyphs"  stroke="#b2b2b2" stroke-width="0.9">Indicators</text>
<rect x="514.8" y="32.1" width="12.2" height="11.7" rx="3.500" fill="none" stroke="#b8b8b8" stroke-width="2"/>
<rect x="533" y="32.1" width="12.2" height="11.7" rx="3.500" fill="none" stroke="#b8b8b8" stroke-width="2"/>
<rect x="514.8" y="50.1" width="12.2" height="11.7" rx="3.500" fill="none" stroke="#b8b8b8" stroke-width="2"/>
<rect x="533" y="50.1" width="12.2" height="11.7" rx="3.500" fill="none" stroke="#b8b8b8" stroke-width="2"/>
<rect x="576" y="25" width="2" height="44" fill="#151515"/>
<text x="606" y="57" font-size="27" fill="#b2b2b2" font-weight="normal" text-anchor="start" textLength="40" lengthAdjust="spacingAndGlyphs"  stroke="#b2b2b2" stroke-width="0.9">Bid</text>
<rect x="674" y="25" width="2" height="44" fill="#151515"/>
<path d="M716 36.8 L709 44 L716 51.2 M709 44 H722 C729 44 733 49 733 57" fill="none" stroke="#b8b8b8" stroke-width="2"/>
<path d="M802 36.8 L809 44 L802 51.2 M809 44 H796 C789 44 785 49 785 57" fill="none" stroke="#5a5a5a" stroke-width="2"/>
<text x="2222" y="46.7" font-size="27" fill="#b2b2b2" font-weight="normal" text-anchor="start" textLength="60.5" lengthAdjust="spacingAndGlyphs"  stroke="#b2b2b2" stroke-width="0.9">Save</text>
<text x="2230.3" y="70.6" font-size="18" fill="#c69768" font-weight="normal" text-anchor="start" textLength="43.5" lengthAdjust="spacingAndGlyphs" stroke="#c69768" stroke-width="0.6">Save</text>
<path d="M2331 44 L2338 51 L2345 44" fill="none" stroke="#b8b8b8" stroke-width="2"/>
<rect x="2366" y="25" width="2" height="44" fill="#151515"/>
<g fill="none" stroke="#b8b8b8" stroke-width="2" stroke-linejoin="round"><path d="M2408.1 32.6 A14.2 14.2 0 1 0 2425.3 45.1"/><path d="M2421.3 56.5 L2431 66"/><path d="M2418.3 25.8 L2408.7 39 L2415.8 40.3 L2415 50.6 L2425.5 36 L2419.5 35 Z"/></g>
<g fill="none" stroke="#b8b8b8" stroke-width="2" stroke-linejoin="round"><path d="M2486.60 33.16 L2486.86 28.00 L2492.74 28.00 L2493.00 33.16 A14.3 14.3 0 0 1 2497.39 34.98 L2501.22 31.51 L2505.39 35.68 L2501.92 39.51 A14.3 14.3 0 0 1 2503.74 43.90 L2508.90 44.16 L2508.90 50.04 L2503.74 50.30 A14.3 14.3 0 0 1 2501.92 54.69 L2505.39 58.52 L2501.22 62.69 L2497.39 59.22 A14.3 14.3 0 0 1 2493.00 61.04 L2492.74 66.20 L2486.86 66.20 L2486.60 61.04 A14.3 14.3 0 0 1 2482.21 59.22 L2478.38 62.69 L2474.21 58.52 L2477.68 54.69 A14.3 14.3 0 0 1 2475.86 50.30 L2470.70 50.04 L2470.70 44.16 L2475.86 43.90 A14.3 14.3 0 0 1 2477.68 39.51 L2474.21 35.68 L2478.38 31.51 L2482.21 34.98 A14.3 14.3 0 0 1 2486.60 33.16 Z"/><circle cx="2489.8" cy="47.1" r="5.2"/></g>
<path d="M2551 41 V36 a4 4 0 0 1 4 -4 H2560 M2572 32 H2577 a4 4 0 0 1 4 4 V41 M2581 53 V58 a4 4 0 0 1 -4 4 H2572 M2560 62 H2555 a4 4 0 0 1 -4 -4 V53" fill="none" stroke="#b8b8b8" stroke-width="2"/>
<rect x="38" y="97" width="10.500" height="2" fill="#c69768"/><rect x="42" y="93" width="2" height="5" fill="#c69768"/>
<g fill="none" stroke="#b8b8b8" stroke-width="2" stroke-linecap="round"><circle cx="42" cy="153" r="21"/><path d="M35.500 157.500 A6.800 6.800 0 0 0 48.500 157.500"/></g><circle cx="37" cy="150" r="2.200" fill="#b8b8b8"/><circle cx="47" cy="150" r="2.200" fill="#b8b8b8"/>
<rect x="6" y="201" width="72" height="2" fill="#151515"/>
<g transform="translate(42 251) rotate(-45)" fill="none" stroke="#b8b8b8" stroke-width="2"><rect x="-26.500" y="-7.500" width="53" height="15" rx="2"/><path d="M-17 -7.500 V-1 M-8.500 -7.500 V-1 M0 -7.500 V-1 M8.500 -7.500 V-1 M17 -7.500 V-1"/></g>
<g fill="none" stroke="#b8b8b8" stroke-width="2"><circle cx="39.500" cy="319.700" r="16.200"/><path d="M33 319.700 H46 M39.500 313.200 V326.200 M51 331.500 L58 338.800"/></g>
<rect x="6" y="371" width="72" height="2" fill="#151515"/>
<rect x="12" y="391" width="60" height="60" rx="7" fill="#b98c66"/>
<g fill="none" stroke="#e4e4e4" stroke-width="2"><path d="M27 432 V417 a15 15 0 0 1 30 0 V432 H48 V417 a6 6 0 0 0 -12 0 V432 Z"/><path d="M27 424 H36 M48 424 H57"/><path d="M33 436 L30 441 L34 441 L31 446.500 M53.500 436 L50.500 441 L54.500 441 L51.500 446.500"/></g>
<g transform="translate(20.5 502.3) rotate(-45)" fill="none" stroke="#b8b8b8" stroke-width="2" stroke-linejoin="round"><path d="M1.4 0 L7 -5.6 H38.9 a2.5 2.5 0 0 1 2.5 2.5 V3.1 a2.5 2.5 0 0 1 -2.5 2.5 H7 Z"/><path d="M9.3 -5.6 V5.6 M34.5 -5.6 V5.6 M9.3 0 H34.5"/></g>
<g fill="none" stroke="#b8b8b8" stroke-width="2"><rect x="45.2" y="500.6" width="15.3" height="11.2" rx="1.500"/><path d="M48.9 500 V494.3 a4.1 4.1 0 0 1 8.2 0 V495.4"/><path d="M53 504.9 V508.6" stroke-width="2.400"/></g>
<g fill="none" stroke="#b8b8b8" stroke-width="2" stroke-linecap="round"><rect x="27" y="563.500" width="30" height="20" rx="3"/><path d="M35 563.500 V556 a7.500 7.500 0 0 1 15 -1"/><path d="M41.700 571 V576.500" stroke-width="2.600"/></g>
<g fill="none" stroke="#b8b8b8" stroke-width="2"><path d="M22 629 C29 619 35 616 40 616 C45 616 51 619 58 629 C51 639 45 642 40 642 C35 642 29 639 22 629 Z"/><circle cx="40" cy="629" r="6.500"/><path d="M43.2 657.6 L48.6 650.6 C52 649.2 55.6 651 55 654 C54.5 656.6 53 657.6 51 657.6 Z" stroke-linejoin="round"/><path d="M57.8 645.2 C55.6 648 57 651.3 59.5 650.3 L63.8 647"/></g>
<rect x="83.2" y="516.500" width="15.4" height="51" rx="7.600" fill="#262626" stroke="#111" stroke-width="2"/>
<path d="M94 535 L89.5 542.500 L94 550" fill="none" stroke="#c8c8c8" stroke-width="1.800"/>
<text x="131.1" y="648.8" font-size="27" fill="#b2b2b2" font-weight="normal" text-anchor="start" textLength="27.8" lengthAdjust="spacingAndGlyphs"  stroke="#b2b2b2" stroke-width="0.9">5y</text>
<text x="184.2" y="648.8" font-size="27" fill="#b2b2b2" font-weight="normal" text-anchor="start" textLength="28.6" lengthAdjust="spacingAndGlyphs"  stroke="#b2b2b2" stroke-width="0.9">1y</text>
<text x="237.1" y="648.8" font-size="27" fill="#b2b2b2" font-weight="normal" text-anchor="start" textLength="39.5" lengthAdjust="spacingAndGlyphs"  stroke="#b2b2b2" stroke-width="0.9">3m</text>
<text x="302.1" y="648.8" font-size="27" fill="#b2b2b2" font-weight="normal" text-anchor="start" textLength="38.2" lengthAdjust="spacingAndGlyphs"  stroke="#b2b2b2" stroke-width="0.9">1m</text>
<text x="367.1" y="648.8" font-size="27" fill="#b2b2b2" font-weight="normal" text-anchor="start" textLength="30" lengthAdjust="spacingAndGlyphs"  stroke="#b2b2b2" stroke-width="0.9">5d</text>
<text x="421.7" y="648.8" font-size="27" fill="#b2b2b2" font-weight="normal" text-anchor="start" textLength="30.8" lengthAdjust="spacingAndGlyphs"  stroke="#b2b2b2" stroke-width="0.9">1d</text>
<rect x="473.5" y="617" width="2" height="44" fill="#151515"/>
<g fill="none" stroke="#b8b8b8" stroke-width="2"><path d="M504 637 V628.5 a4.5 4.5 0 0 1 4.5 -4.5 H533.5 a4.5 4.5 0 0 1 4.5 4.5 V649.5 a4.5 4.5 0 0 1 -4.5 4.5 H521"/><path d="M504 631.700 H538 M514 619 V627 M528 619 V627"/><path d="M501 647.800 H516 M509 641 L516.300 647.800 L509 655"/></g>
<text x="2150.6" y="648.2" font-size="27" fill="#b2b2b2" font-weight="normal" text-anchor="start" textLength="220.5" lengthAdjust="spacingAndGlyphs"  stroke="#b2b2b2" stroke-width="0.9">13:26:16 (UTC+3)</text>
<rect x="2391" y="617" width="2" height="44" fill="#151515"/>
<text x="2413.6" y="648.2" font-size="28.5" fill="#b2b2b2" font-weight="normal" text-anchor="start"  stroke="#b2b2b2" stroke-width="0.9">%</text>
<text x="2466" y="648.2" font-size="27" fill="#b2b2b2" font-weight="normal" text-anchor="start" textLength="37.8" lengthAdjust="spacingAndGlyphs"  stroke="#b2b2b2" stroke-width="0.9">log</text>
<text x="2528.6" y="648.2" font-size="27" fill="#c69768" font-weight="normal" text-anchor="start" textLength="55" lengthAdjust="spacingAndGlyphs"  stroke="#c69768" stroke-width="0.9">auto</text>
<path d="M1289.500 0.500 L1298 8.500 L1306.500 0.500" fill="none" stroke="#8c8c8c" stroke-width="2.600"/>
</svg>
</body></html>
